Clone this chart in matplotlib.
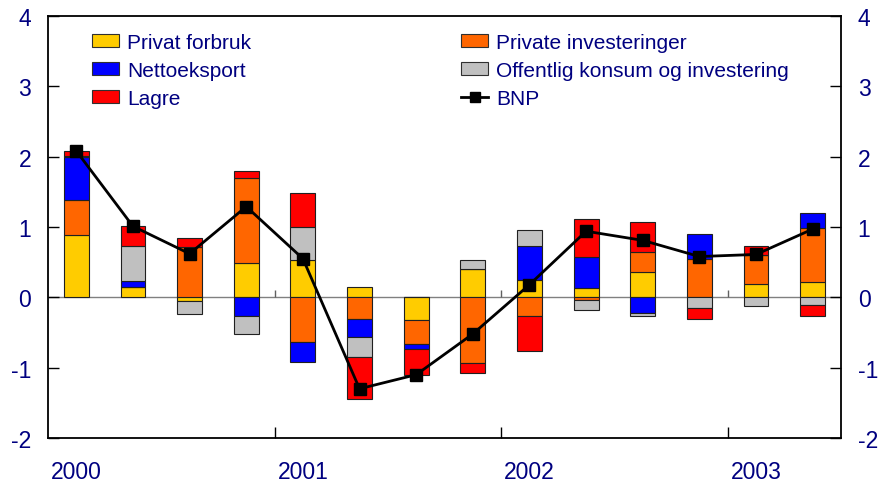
import numpy as np
import matplotlib
matplotlib.use("Agg")
import matplotlib.pyplot as plt
from matplotlib.patches import Patch
from matplotlib.lines import Line2D

plt.rcParams['font.family'] = ['Liberation Sans', 'DejaVu Sans']
plt.rcParams['axes.unicode_minus'] = False

# kvartaler 2000K1 - 2003K2
quarters = ["2000K1", "2000K2", "2000K3", "2000K4",
            "2001K1", "2001K2", "2001K3", "2001K4",
            "2002K1", "2002K2", "2002K3", "2002K4",
            "2003K1", "2003K2"]
year_labels = ["2000", "2001", "2002", "2003"]

privat_forbruk = [0.88, 0.14, -0.05, 0.49, 0.53, 0.14, -0.32, 0.40, 0.25, 0.13, 0.36, 0.00, 0.19, 0.22]
private_inv = [0.51, 0.00, 0.72, 1.21, -0.64, -0.31, -0.35, -0.94, -0.27, -0.04, 0.28, 0.55, 0.41, 0.76]
nettoeksport = [0.60, 0.09, 0.00, -0.27, -0.28, -0.25, -0.06, 0.00, 0.48, 0.44, -0.22, 0.35, 0.00, 0.22]
offentlig = [0.02, 0.50, -0.19, -0.25, 0.47, -0.29, 0.00, 0.13, 0.23, -0.14, -0.05, -0.15, -0.12, -0.11]
lagre = [0.07, 0.29, 0.13, 0.10, 0.49, -0.59, -0.38, -0.13, -0.50, 0.54, 0.43, -0.16, 0.13, -0.16]
bnp = [2.08, 1.01, 0.62, 1.29, 0.55, -1.30, -1.10, -0.52, 0.18, 0.94, 0.81, 0.58, 0.61, 0.97]

series = [
    ("Privat forbruk", privat_forbruk, "#FFCC00"),
    ("Private investeringer", private_inv, "#FF6600"),
    ("Nettoeksport", nettoeksport, "#0000FF"),
    ("Offentlig konsum og investering", offentlig, "#C0C0C0"),
    ("Lagre", lagre, "#FF0000"),
]

txt = "#000080"

fig = plt.figure(figsize=(8.83, 4.85), dpi=100)
ax = fig.add_axes([48 / 883, 46 / 485, 793 / 883, 422 / 485])

x = np.arange(len(quarters))
pos_bottom = np.zeros(len(x))
neg_bottom = np.zeros(len(x))
for name, vals, col in series:
    v = np.array(vals)
    bottom = np.where(v >= 0, pos_bottom, neg_bottom)
    ax.bar(x, v, 0.44, bottom=bottom, color=col, edgecolor="#202020",
           linewidth=0.8, zorder=2)
    pos_bottom += np.where(v >= 0, v, 0)
    neg_bottom += np.where(v < 0, v, 0)

ax.plot(x, bnp, color="black", linewidth=2, marker="s", markersize=8, zorder=4)

ax.axhline(0, color="#808080", linewidth=1, zorder=1)
# små streker ved årsskiftene på nullinjen
ax.vlines([3.5, 7.5, 11.5], 0, 0.11, color="#606060", linewidth=1, zorder=1)

ax.set_xlim(-0.5, len(x) - 0.5)
ax.set_ylim(-2, 4)
ax.set_yticks(range(-2, 5))
ax.tick_params(axis="y", which="both", left=True, right=True, labelleft=True,
               labelright=True, direction="in", length=8, width=1,
               labelsize=16.5, labelcolor=txt, pad=12)
ax.set_xticks([0, 4, 8, 12])
ax.set_xticklabels(year_labels)
ax.set_xticks([3.5, 7.5, 11.5], minor=True)
ax.tick_params(axis="x", which="major", length=0, labelsize=16.5,
               labelcolor=txt, pad=16)
ax.tick_params(axis="x", which="minor", direction="in", length=8, width=1)
for s in ax.spines.values():
    s.set_linewidth(1.3)

# legende i to kolonner
h1 = [Patch(facecolor="#FFCC00", edgecolor="#303030", linewidth=0.8),
      Patch(facecolor="#0000FF", edgecolor="#303030", linewidth=0.8),
      Patch(facecolor="#FF0000", edgecolor="#303030", linewidth=0.8)]
l1 = ["Privat forbruk", "Nettoeksport", "Lagre"]
h2 = [Patch(facecolor="#FF6600", edgecolor="#303030", linewidth=0.8),
      Patch(facecolor="#C0C0C0", edgecolor="#303030", linewidth=0.8),
      Line2D([0], [0], color="black", linewidth=2, marker="s", markersize=7)]
l2 = ["Private investeringer", "Offentlig konsum og investering", "BNP"]

kw = dict(loc="upper left", frameon=False, fontsize=15, labelcolor=txt,
          borderpad=0, borderaxespad=0, handlelength=1.3, handleheight=0.55,
          handletextpad=0.4, labelspacing=0.43, bbox_transform=fig.transFigure)
leg1 = ax.legend(h1, l1, bbox_to_anchor=(92 / 883, 1 - 34 / 485), **kw)
ax.add_artist(leg1)
ax.legend(h2, l2, bbox_to_anchor=(461 / 883, 1 - 34 / 485), **kw)

fig.savefig("out.png", dpi=100)
